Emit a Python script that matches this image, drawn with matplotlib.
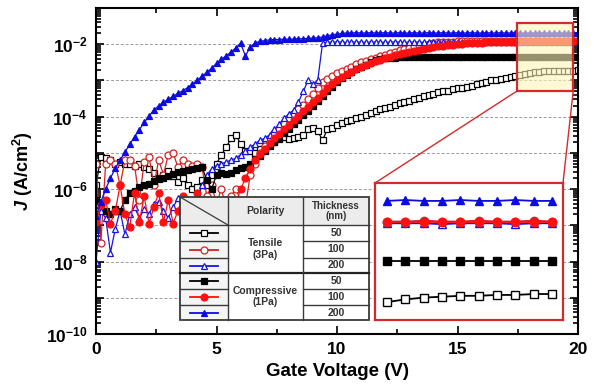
import numpy as np
import matplotlib
matplotlib.use('Agg')
import matplotlib.pyplot as plt
from matplotlib.patches import Rectangle, ConnectionPatch
from matplotlib.ticker import LogLocator, NullFormatter, FuncFormatter, MultipleLocator

plt.rcParams['font.family'] = ['Liberation Sans', 'DejaVu Sans']
plt.rcParams['font.weight'] = 'bold'
plt.rcParams['mathtext.fontset'] = 'custom'
plt.rcParams['mathtext.rm'] = 'Liberation Sans:bold'
plt.rcParams['mathtext.bf'] = 'Liberation Sans:bold'
plt.rcParams['mathtext.it'] = 'Liberation Sans:bold:italic'
plt.rcParams['mathtext.sf'] = 'Liberation Sans:bold'

# ---------------- data (log10 of J in A/cm^2) ----------------
gate_voltage = np.linspace(0, 20, 101)

tensile_50 = [
    -5.9, -5.1, -5.15, -5.2, -5.3, -5.25, -5.3, -5.3, -5.35, -5.3,
    -5.4, -5.45, -5.55, -5.7, -5.6, -5.5, -5.65, -5.8, -5.7, -5.9,
    -6.0, -5.95, -5.75, -5.9, -5.6, -5.3, -5.05, -4.85, -4.6, -4.5,
    -4.75, -4.95, -4.95, -5.0, -4.9, -4.85, -4.75, -4.7, -4.62, -4.57,
    -4.62, -4.6, -4.57, -4.5, -4.35, -4.3, -4.4, -4.65, -4.35, -4.3,
    -4.22, -4.18, -4.12, -4.08, -4.04, -4.0, -3.96, -3.9, -3.85, -3.8,
    -3.75, -3.72, -3.67, -3.63, -3.6, -3.56, -3.52, -3.48, -3.44, -3.4,
    -3.37, -3.33, -3.3, -3.28, -3.25, -3.22, -3.2, -3.18, -3.14, -3.1,
    -3.07, -3.04, -3.0, -2.98, -2.95, -2.92, -2.9, -2.87, -2.85, -2.82,
    -2.79, -2.77, -2.76, -2.75, -2.75, -2.74, -2.74, -2.73, -2.73, -2.73,
    -2.72]

tensile_100 = [
    -5.3, -7.5, -5.3, -5.2, -5.3, -5.9, -5.2, -5.2, -5.35, -6.3,
    -5.25, -5.1, -5.9, -5.2, -5.6, -5.05, -5.0, -5.4, -5.2, -5.3,
    -5.35, -5.3, -5.4, -6.2, -5.9, -6.4, -6.0, -6.5, -6.2, -6.0,
    -6.3, -6.5, -5.6, -5.3, -5.0, -4.8, -4.65, -4.45, -4.35, -4.2,
    -4.05, -3.95, -3.8, -3.68, -3.5, -3.38, -3.2, -3.05, -2.95, -2.87,
    -2.8, -2.74, -2.68, -2.62, -2.55, -2.5, -2.45, -2.4, -2.37, -2.33,
    -2.29, -2.25, -2.21, -2.17, -2.13, -2.1, -2.06, -2.03, -2.01, -1.99,
    -1.97, -1.95, -1.94, -1.93, -1.93, -1.92, -1.92, -1.92, -1.92, -1.92,
    -1.92, -1.92, -1.91, -1.92, -1.92, -1.91, -1.92, -1.92, -1.91, -1.92,
    -1.92, -1.91, -1.92, -1.92, -1.91, -1.92, -1.92, -1.91, -1.92, -1.92,
    -1.92]

tensile_200 = [
    -8.0, -6.6, -6.8, -7.75, -7.1, -6.6, -7.25, -6.7, -6.5, -6.8,
    -6.55, -6.7, -6.4, -6.35, -6.6, -6.8, -6.5, -6.25, -6.6, -6.7,
    -6.45, -6.2, -5.9, -5.6, -5.45, -5.35, -5.3, -5.25, -5.2, -5.15,
    -5.05, -4.95, -4.85, -4.75, -4.65, -4.6, -4.5, -4.35, -4.2, -4.05,
    -3.92, -3.82, -3.6, -3.3, -3.0, -3.1, -3.0, -1.97, -1.95, -1.94,
    -1.94, -1.94, -1.95, -1.94, -1.94, -1.94, -1.95, -1.94, -1.94, -1.94,
    -1.95, -1.94, -1.94, -1.94, -1.95, -1.94, -1.94, -1.94, -1.95, -1.94,
    -1.94, -1.94, -1.95, -1.94, -1.94, -1.94, -1.95, -1.94, -1.94, -1.94,
    -1.95, -1.94, -1.94, -1.94, -1.95, -1.94, -1.94, -1.94, -1.95, -1.94,
    -1.94, -1.94, -1.95, -1.94, -1.94, -1.94, -1.95, -1.94, -1.94, -1.94,
    -1.94]

compressive_50 = [
    -6.3, -6.4, -6.6, -6.7, -6.55, -6.6, -6.3, -6.1, -6.05, -5.95,
    -5.9, -5.85, -5.78, -5.72, -5.68, -5.63, -5.58, -5.54, -5.5, -5.47,
    -5.44, -5.42, -5.4, -5.75, -6.0, -5.6, -5.55, -5.58, -5.55, -5.48,
    -5.42, -5.4, -5.3, -5.18, -5.08, -4.95, -4.82, -4.7, -4.58, -4.46,
    -4.33, -4.2, -4.08, -3.96, -3.83, -3.7, -3.57, -3.44, -3.3, -3.17,
    -3.05, -2.93, -2.84, -2.76, -2.68, -2.62, -2.56, -2.5, -2.44, -2.41,
    -2.39, -2.38, -2.37, -2.36, -2.36, -2.36, -2.36, -2.36, -2.36, -2.36,
    -2.36, -2.36, -2.36, -2.36, -2.36, -2.36, -2.36, -2.36, -2.36, -2.36,
    -2.36, -2.36, -2.36, -2.36, -2.36, -2.36, -2.36, -2.36, -2.36, -2.36,
    -2.36, -2.36, -2.36, -2.36, -2.36, -2.36, -2.36, -2.36, -2.36, -2.36,
    -2.36]

compressive_100 = [
    -6.9, -6.45, -6.3, -6.95, -6.6, -5.9, -6.7, -7.05, -6.1, -6.9,
    -6.2, -6.95, -6.5, -6.1, -6.9, -6.3, -6.95, -6.6, -6.2, -6.95,
    -6.6, -6.1, -6.9, -6.5, -6.9, -6.5, -6.85, -6.3, -6.7, -6.4,
    -6.0, -5.7, -5.45, -5.2, -5.02, -4.88, -4.72, -4.6, -4.48, -4.35,
    -4.22, -4.1, -3.97, -3.85, -3.73, -3.6, -3.48, -3.36, -3.22, -3.1,
    -2.98, -2.9, -2.83, -2.76, -2.68, -2.62, -2.57, -2.52, -2.47, -2.43,
    -2.39, -2.35, -2.31, -2.28, -2.24, -2.21, -2.18, -2.15, -2.12, -2.1,
    -2.08, -2.06, -2.05, -2.03, -2.02, -2.0, -1.99, -1.98, -1.97, -1.96,
    -1.96, -1.95, -1.95, -1.94, -1.94, -1.93, -1.93, -1.93, -1.92, -1.92,
    -1.92, -1.92, -1.92, -1.92, -1.92, -1.92, -1.92, -1.92, -1.92, -1.92,
    -1.92]

compressive_200 = [
    -6.75, -6.35, -6.0, -5.7, -5.42, -5.2, -4.98, -4.76, -4.55, -4.36,
    -4.16, -3.98, -3.82, -3.7, -3.6, -3.52, -3.44, -3.36, -3.28, -3.2,
    -3.1, -3.0, -2.88, -2.78, -2.66, -2.53, -2.42, -2.32, -2.22, -2.1,
    -1.98, -2.32, -2.08, -1.97, -1.92, -1.9, -1.88, -1.87, -1.87, -1.86,
    -1.86, -1.86, -1.85, -1.85, -1.84, -1.83, -1.82, -1.8, -1.77, -1.74,
    -1.72, -1.7, -1.69, -1.69, -1.68, -1.69, -1.69, -1.68, -1.69, -1.69,
    -1.68, -1.69, -1.69, -1.68, -1.69, -1.69, -1.68, -1.69, -1.69, -1.68,
    -1.69, -1.69, -1.68, -1.69, -1.69, -1.68, -1.69, -1.69, -1.68, -1.69,
    -1.69, -1.68, -1.69, -1.69, -1.68, -1.69, -1.69, -1.68, -1.69, -1.69,
    -1.68, -1.69, -1.69, -1.68, -1.69, -1.69, -1.68, -1.69, -1.69, -1.68,
    -1.69]

series = [tensile_50, tensile_100, tensile_200,
          compressive_50, compressive_100, compressive_200]
polarity_labels = ['Tensile\n(3Pa)', 'Compressive\n(1Pa)']
thickness_labels = ['50', '100', '200', '50', '100', '200']
x_ticks = [0, 5, 10, 15, 20]

BLUE = '#1414e6'
styles = [
    dict(marker='s', color='black', mfc='white'),
    dict(marker='o', color='#d42222', mfc='white'),
    dict(marker='^', color=BLUE, mfc='white'),
    dict(marker='s', color='black', mfc='black'),
    dict(marker='o', color='#ff0f0f', mfc='#ff0f0f'),
    dict(marker='^', color='#0c0ce0', mfc='#0c0ce0'),
]

fig = plt.figure(figsize=(6, 3.92), dpi=100)
ax = fig.add_axes([96 / 600, 1 - 334 / 392, 482 / 600, 326 / 392])

for vals, st in zip(series, styles):
    ax.plot(gate_voltage, 10 ** np.array(vals), marker=st['marker'], color=st['color'],
            mfc=st['mfc'], mec=st['color'], ms=5, mew=0.9, lw=0.9)

ax.set_yscale('log')
ax.set_ylim(1e-10, 1e-1)
ax.set_xlim(0, 20)
ax.set_xticks(x_ticks)
ax.xaxis.set_minor_locator(MultipleLocator(2.5))
ax.yaxis.set_major_locator(LogLocator(base=10, numticks=30))
ax.yaxis.set_minor_locator(LogLocator(base=10, subs=np.arange(2, 10), numticks=30))
ax.yaxis.set_minor_formatter(NullFormatter())


def yfmt(v, p):
    e = int(round(np.log10(v)))
    return r'$\mathrm{10^{%d}}$' % e if e % 2 == 0 else ''


ax.yaxis.set_major_formatter(FuncFormatter(yfmt))
ax.tick_params(which='both', direction='in', top=True, right=True, width=1.2)
ax.tick_params(which='major', length=6, labelsize=12.5, pad=6)
ax.tick_params(which='minor', length=3.5)
ax.yaxis.grid(True, which='major', color='#9a9a9a', ls=(0, (3, 2)), lw=0.7)
ax.set_axisbelow(True)
for s in ax.spines.values():
    s.set_linewidth(1.5)
ax.set_xlabel('Gate Voltage (V)', fontsize=13.5, fontweight='bold', labelpad=4)
ax.set_ylabel(r'$J$ (A/cm$^\mathrm{2}$)', fontsize=13, fontweight='bold', labelpad=8)

# zoom box
bx0, bx1, by0, by1 = 17.45, 19.8, 10 ** -3.3, 10 ** -1.42
ax.add_patch(Rectangle((bx0, by0), bx1 - bx0, by1 - by0, facecolor='#fdf5b8', alpha=0.6,
                       edgecolor='none', zorder=3))
ax.add_patch(Rectangle((bx0, by0), bx1 - bx0, by1 - by0, facecolor='none',
                       edgecolor='#d42a2a', lw=1.6, zorder=4))

# inset
axin = fig.add_axes([375 / 600, 1 - 320 / 392, 188 / 600, 137 / 392])
mask = (gate_voltage > 17.7) & (gate_voltage < 19.7)
for vals, st in zip(series, styles):
    axin.plot(gate_voltage[mask], 10 ** np.array(vals)[mask], marker=st['marker'],
              color=st['color'], mfc=st['mfc'], mec=st['color'], ms=6, mew=1.0, lw=1.3)
axin.set_yscale('log')
axin.set_xlim(17.67, 19.72)
axin.set_ylim(10 ** -3.02, 10 ** -1.49)
axin.set_xticks([])
axin.set_yticks([])
axin.minorticks_off()
for s in axin.spines.values():
    s.set_color('#d42a2a')
    s.set_linewidth(1.6)

for xa, xb in [((bx0, by0), (0, 1)), ((bx1, by0), (1, 1))]:
    cp = ConnectionPatch(xyA=xa, coordsA=ax.transData, xyB=xb, coordsB=axin.transAxes,
                         color='#d42a2a', lw=1.0)
    fig.add_artist(cp)

# legend table
tab = fig.add_axes([180 / 600, 1 - 320 / 392, 189 / 600, 123 / 392])
tab.set_xlim(0, 189)
tab.set_ylim(123, 0)
tab.axis('off')
tab.add_patch(Rectangle((0, 0), 189, 123, facecolor='white', edgecolor='none'))
tab.add_patch(Rectangle((0, 0), 189, 28, facecolor='#ececec', edgecolor='none'))
tab.add_patch(Rectangle((0, 28), 48, 95, facecolor='#f5f5f5', edgecolor='none'))
lc = '#3a3a3a'
rows = [28, 44, 61, 76, 92, 108, 123]
tab.plot([0, 189], [28, 28], color=lc, lw=1.0, clip_on=False)
tab.plot([0, 189], [76, 76], color='#222222', lw=1.6, clip_on=False)
for r in [44, 61, 92, 108]:
    tab.plot([0, 48], [r, r], color=lc, lw=1.0, clip_on=False)
    tab.plot([123, 189], [r, r], color=lc, lw=1.0, clip_on=False)
for c in [48, 123]:
    tab.plot([c, c], [0, 123], color=lc, lw=1.0, clip_on=False)
tab.add_patch(Rectangle((0, 0), 189, 123, facecolor='none', edgecolor=lc, lw=1.3, clip_on=False))
tab.plot([0, 48], [0, 28], color=lc, lw=0.9)
tc = '#333333'
tab.text(85.5, 14, 'Polarity', ha='center', va='center', fontsize=7.5, color=tc)
tab.text(156, 14, 'Thickness\n(nm)', ha='center', va='center', fontsize=7, color=tc,
         linespacing=1.1)
tab.text(85.5, 52, polarity_labels[0], ha='center', va='center', fontsize=7.5, color=tc,
         linespacing=1.15)
tab.text(85.5, 99.5, polarity_labels[1], ha='center', va='center', fontsize=7.5, color=tc,
         linespacing=1.15)
for i, (lab, st) in enumerate(zip(thickness_labels, styles)):
    yc = (rows[i] + rows[i + 1]) / 2
    tab.text(156, yc, lab, ha='center', va='center', fontsize=7.5, color=tc)
    tab.plot([10, 24, 38], [yc, yc, yc], marker=st['marker'], color=st['color'],
             mfc=st['mfc'], mec=st['color'], ms=5, mew=0.9, lw=1.3, markevery=[1])

fig.savefig('out.png', dpi=100)
